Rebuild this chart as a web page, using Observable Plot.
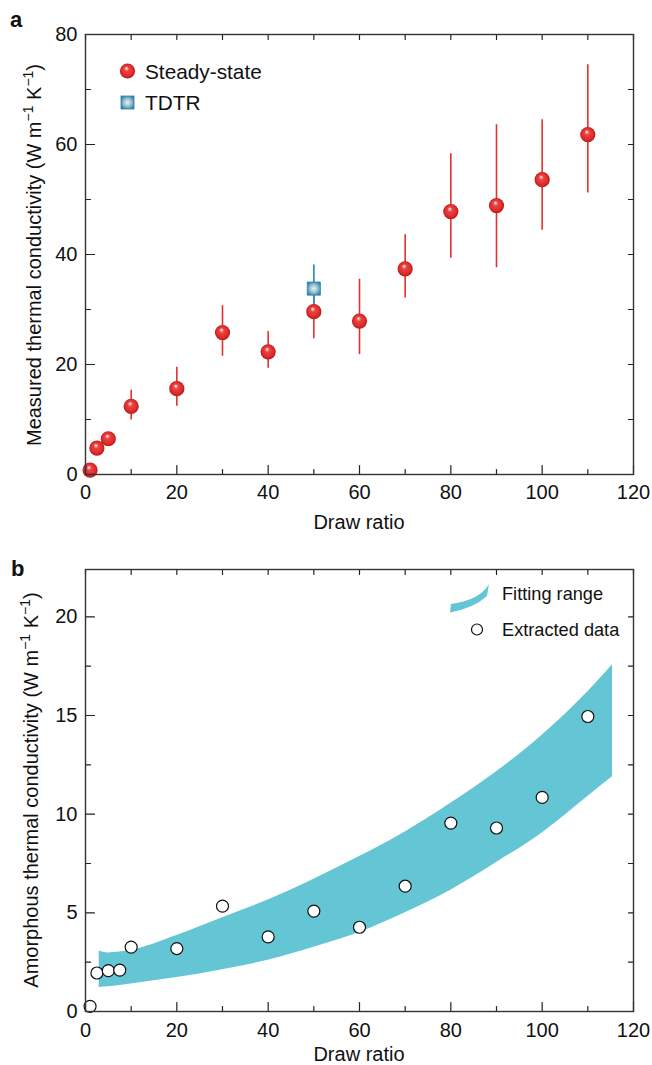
<!DOCTYPE html>
<html><head><meta charset="utf-8">
<script src="https://cdn.jsdelivr.net/npm/d3@7"></script>
<script src="https://cdn.jsdelivr.net/npm/@observablehq/plot@0.6"></script>
<style>
body{margin:0;background:#fff;}
#chart{width:652px;}
svg{display:block;}
</style></head><body><div id="chart"></div>
<script>
// ---------- Panel a data ----------
const drawRatioA = [1, 2.5, 5, 10, 20, 30, 40, 50, 60, 70, 80, 90, 100, 110];
const steadyK    = [0.8, 4.8, 6.5, 12.4, 15.6, 25.8, 22.3, 29.6, 27.9, 37.4, 47.8, 48.9, 53.6, 61.8];
const steadyLo   = [null, null, null, 9.9, 12.4, 21.5, 19.3, 24.7, 21.8, 32.1, 39.3, 37.6, 44.4, 51.2];
const steadyHi   = [null, null, null, 15.3, 19.5, 30.7, 26.0, 34.5, 35.5, 43.6, 58.3, 63.6, 64.5, 74.5];
const tdtrX  = [50];
const tdtrK  = [33.8];
const tdtrLo = [29.5];
const tdtrHi = [38.1];
const xTicksMajor = [0, 20, 40, 60, 80, 100, 120];
const xTicksMinor = [10, 30, 50, 70, 90, 110];
const yTicksMajorA = [0, 20, 40, 60, 80];
const yTicksMinorA = [10, 30, 50, 70];

// ---------- Panel b data ----------
const drawRatioB = [1, 2.5, 5, 7.5, 10, 20, 30, 40, 50, 60, 70, 80, 90, 100, 110];
const extractedK = [0.26, 1.95, 2.07, 2.1, 3.26, 3.19, 5.34, 3.78, 5.09, 4.27, 6.35, 9.55, 9.3, 10.85, 14.95];
const fitX    = [3, 5, 10, 20, 30, 40, 50, 60, 70, 80, 90, 100, 110, 115.4];
const fitLow  = [1.22, 1.25, 1.4, 1.72, 2.12, 2.6, 3.25, 4.0, 5.0, 6.15, 7.55, 9.05, 10.9, 11.9];
const fitHigh = [3.07, 2.97, 3.1, 3.85, 4.75, 5.65, 6.7, 7.85, 9.1, 10.55, 12.15, 14.0, 16.2, 17.57];
const yTicksMajorB = [0, 5, 10, 15, 20];
const yTicksMinorB = [2.5, 7.5, 12.5, 17.5];

const steady = drawRatioA.map((x, i) => ({x, k: steadyK[i], lo: steadyLo[i], hi: steadyHi[i]}));
const tdtr = tdtrX.map((x, i) => ({x, k: tdtrK[i], lo: tdtrLo[i], hi: tdtrHi[i]}));
const extracted = drawRatioB.map((x, i) => ({x, k: extractedK[i]}));
const fit = fitX.map((x, i) => ({x, lo: fitLow[i], hi: fitHigh[i]}));

const FONT = "'Liberation Sans', Arial, Helvetica, sans-serif";
const FS = 20;
const RED = "#e3302f";
const BLUE = "#3d8db3";
const CYAN = "#64c6d5";
const xDom = [0, 120];

const tickShape = {draw(context, l) { context.moveTo(0, 0); context.lineTo(0, -l); }};

function tickMarks(xMaj, xMin, yMaj, yMin, yDom) {
  const s = {stroke: "#222", strokeWidth: 1.2, anchor: "start", shape: tickShape};
  const allX = [...xMaj, ...xMin];
  const allY = [...yMaj, ...yMin];
  return [
    Plot.vector(xMaj, {...s, x: d => d, y: () => yDom[0], rotate: 0, length: 9}),
    Plot.vector(xMin, {...s, x: d => d, y: () => yDom[0], rotate: 0, length: 5}),
    Plot.vector(allX, {...s, x: d => d, y: () => yDom[1], rotate: 180, length: 5}),
    Plot.vector(yMaj, {...s, x: () => xDom[0], y: d => d, rotate: 90, length: 9}),
    Plot.vector(yMin, {...s, x: () => xDom[0], y: d => d, rotate: 90, length: 5}),
    Plot.vector(allY, {...s, x: () => xDom[1], y: d => d, rotate: 270, length: 5})
  ];
}

function addText(svg, x, y, parts, opts = {}) {
  const t = svg.append("text")
    .attr("font-family", FONT)
    .attr("font-size", opts.size || FS)
    .attr("fill", "#111")
    .attr("text-anchor", opts.anchor || "start")
    .attr("font-weight", opts.weight || "normal");
  if (opts.rotate) t.attr("transform", `translate(${x},${y}) rotate(${opts.rotate})`);
  else t.attr("x", x).attr("y", y);
  let up = false;
  for (const [str, sup] of parts) {
    const ts = t.append("tspan").text(str);
    if (sup && !up) { ts.attr("dy", -8).attr("font-size", 14); up = true; }
    else if (!sup && up) { ts.attr("dy", 8); up = false; }
    else if (sup) ts.attr("font-size", 14);
  }
  return t;
}

function defs(svg) {
  const d = svg.append("defs");
  const g = d.append("radialGradient").attr("id", "sphereRed")
    .attr("cx", "50%").attr("cy", "50%").attr("r", "50%").attr("fx", "42%").attr("fy", "30%");
  [[0, "#ffffff"], [0.12, "#f6b3b3"], [0.32, "#eb4242"], [0.75, "#e02b2b"], [1, "#b51a1a"]]
    .forEach(([o, c]) => g.append("stop").attr("offset", o).attr("stop-color", c));
  const b = d.append("radialGradient").attr("id", "cubeBlue")
    .attr("cx", "50%").attr("cy", "50%").attr("r", "60%");
  [[0, "#e8f0f4"], [0.45, "#a4c6d6"], [0.85, "#4b93b5"], [1, "#2a7aa0"]]
    .forEach(([o, c]) => b.append("stop").attr("offset", o).attr("stop-color", c));
}

const style = {fontFamily: FONT, fontSize: FS + "px", color: "#111", background: "white", overflow: "visible"};

// ---------- Panel a ----------
const yDomA = [0, 80];
const plotA = Plot.plot({
  width: 652, height: 540,
  marginLeft: 85, marginRight: 19, marginTop: 34, marginBottom: 66,
  style,
  x: {domain: xDom},
  y: {domain: yDomA},
  marks: [
    Plot.ruleX(steady.filter(d => d.lo != null), {x: "x", y1: "lo", y2: "hi", stroke: RED, strokeWidth: 1.6}),
    Plot.ruleX(tdtr, {x: "x", y1: "lo", y2: "hi", stroke: BLUE, strokeWidth: 1.8}),
    Plot.dot(steady, {x: "x", y: "k", r: 7.6, fill: "url(#sphereRed)"}),
    Plot.dot(tdtr, {x: "x", y: "k", r: 7.4, symbol: "square", fill: "url(#cubeBlue)", stroke: "#2f80a8", strokeWidth: 0.8}),
    ...tickMarks(xTicksMajor, xTicksMinor, yTicksMajorA, yTicksMinorA, yDomA),
    Plot.frame({stroke: "#333", strokeWidth: 1.4}),
    Plot.axisX({ticks: xTicksMajor, tickSize: 0, tickPadding: 10, label: null, tickFormat: d => d}),
    Plot.axisY({ticks: yTicksMajorA, tickSize: 0, tickPadding: 8, label: null, tickFormat: d => d})
  ]
});
const svgA = d3.select(plotA);
defs(svgA);
addText(svgA, 10, 27, [["a", 0]], {size: 22, weight: "bold"});
addText(svgA, 41, 255, [["Measured thermal conductivity (W m", 0], ["−1", 1], [" K", 0], ["−1", 1], [")", 0]], {rotate: -90, anchor: "middle"});
addText(svgA, 359, 529, [["Draw ratio", 0]], {anchor: "middle"});
// legend a
svgA.append("circle").attr("cx", 127.5).attr("cy", 71).attr("r", 7.6).attr("fill", "url(#sphereRed)");
addText(svgA, 145, 78.5, [["Steady-state", 0]], {size: 20.8});
svgA.append("rect").attr("x", 121).attr("y", 96).attr("width", 13).attr("height", 13)
  .attr("fill", "url(#cubeBlue)").attr("stroke", "#2f80a8").attr("stroke-width", 0.8);
addText(svgA, 145, 110, [["TDTR", 0]], {size: 20.8});
document.getElementById("chart").append(plotA);

// ---------- Panel b ----------
const yDomB = [0, 22.4];
const plotB = Plot.plot({
  width: 652, height: 525,
  marginLeft: 85, marginRight: 19, marginTop: 29, marginBottom: 54,
  style,
  x: {domain: xDom},
  y: {domain: yDomB},
  marks: [
    Plot.areaY(fit, {x: "x", y1: "lo", y2: "hi", fill: CYAN, curve: "monotone-x"}),
    Plot.dot(extracted, {x: "x", y: "k", r: 6, fill: "white", stroke: "#111", strokeWidth: 1.2}),
    ...tickMarks(xTicksMajor, xTicksMinor, yTicksMajorB, yTicksMinorB, yDomB),
    Plot.frame({stroke: "#333", strokeWidth: 1.4}),
    Plot.axisX({ticks: xTicksMajor, tickSize: 0, tickPadding: 11, label: null, tickFormat: d => d}),
    Plot.axisY({ticks: yTicksMajorB, tickSize: 0, tickPadding: 8, label: null, tickFormat: d => d})
  ]
});
const svgB = d3.select(plotB);
addText(svgB, 11, 36, [["b", 0]], {size: 22, weight: "bold"});
addText(svgB, 38, 250, [["Amorphous thermal conductivity (W m", 0], ["−1", 1], [" K", 0], ["−1", 1], [")", 0]], {rotate: -90, anchor: "middle"});
addText(svgB, 359, 521, [["Draw ratio", 0]], {anchor: "middle"});
// legend b
svgB.append("path").attr("d", "M450,72.5 Q474,68 487,56 L489,44 Q480,60 451,64 Z").attr("fill", CYAN);
addText(svgB, 502, 60, [["Fitting range", 0]], {size: 18.2});
svgB.append("circle").attr("cx", 477).attr("cy", 89.5).attr("r", 5.5).attr("fill", "white").attr("stroke", "#111").attr("stroke-width", 1.2);
addText(svgB, 502, 95.5, [["Extracted data", 0]], {size: 18.2});
document.getElementById("chart").append(plotB);
</script>
</body></html>
